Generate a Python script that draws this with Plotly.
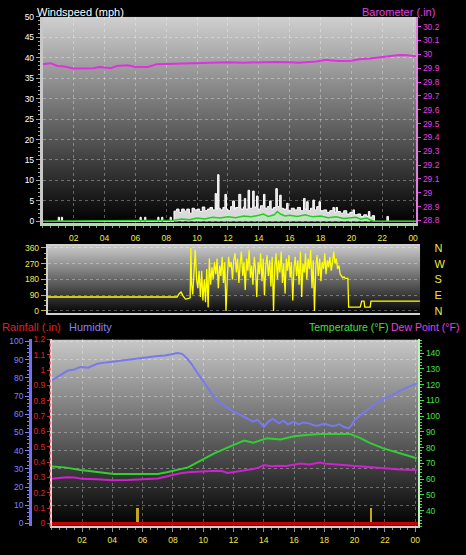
import base64
import plotly.graph_objects as go

W, H = 466, 555

# ---------------- DATA ----------------
hour_ticks = [2, 4, 6, 8, 10, 12, 14, 16, 18, 20, 22, 24]
hour_labels = ["02", "04", "06", "08", "10", "12", "14", "16", "18", "20", "22", "00"]

# wind gust (mph), step series
gust_hours = [0, 1.0, 1.08, 1.2, 1.28, 6.3, 6.38, 6.6, 6.68, 7.45, 7.53, 7.7, 7.78, 8.25, 8.33,
              8.5, 8.67, 8.83, 9.0, 9.17, 9.33, 9.5, 9.67, 9.83, 10.0, 10.17, 10.33, 10.5, 10.67,
              10.83, 11.0, 11.17, 11.25, 11.33, 11.42, 11.5, 11.67, 11.8, 11.9, 12.0, 12.17, 12.3,
              12.42, 12.5, 12.7, 12.83, 13.0, 13.06, 13.15, 13.3, 13.4, 13.6, 13.7, 13.85, 13.95,
              14.1, 14.3, 14.4, 14.55, 14.7, 14.8, 14.95, 15.1, 15.2, 15.35, 15.45, 15.6, 15.8,
              15.9, 16.1, 16.3, 16.5, 16.7, 16.9, 17.0, 17.1, 17.2, 17.35, 17.5, 17.6, 17.75, 17.9,
              18.0, 18.2, 18.4, 18.6, 18.8, 18.9, 19.0, 19.1, 19.3, 19.5, 19.7, 19.9, 20.1, 20.2,
              20.4, 20.6, 20.8, 21.0, 21.1, 21.2, 21.35, 21.5, 22.3, 22.4, 24.26]
gust_mph = [0, 1, 0, 1, 0, 1, 0, 1, 0, 1, 0, 1, 0, 1, 0,
            2.5, 3, 2.2, 3, 2.5, 3, 2, 3.2, 2.8, 3, 2.4, 3.5, 2.6, 3,
            3.4, 2.8, 6.8, 3, 11.4, 3.2, 2.8, 3.4, 6.6, 3, 2.6, 3.6, 5,
            3, 3.4, 6.6, 3, 3.5, 5.6, 3, 7.6, 3.2, 7.4, 3.5, 6.2, 3,
            3.8, 6.6, 3.2, 3.6, 5, 3, 3.4, 8, 3.6, 6.4, 3.2, 3, 4.4,
            2.6, 3.2, 2.8, 3.4, 2.6, 5.6, 3, 4.8, 2.6, 3.2, 5.2, 2.8, 3.6, 4.8,
            2.6, 2.8, 2.2, 2.6, 3.4, 2.2, 3.4, 2.4, 2, 2.6, 1.8, 2.2, 2.8, 1.6,
            1.8, 1.2, 1.6, 1.2, 2.4, 1, 1.4, 0, 1.2, 0, 0]

# average wind (mph)
avg_hours = [0, 8.5, 9, 9.5, 10, 10.5, 11, 11.5, 12, 12.5, 13, 13.5, 14, 14.3, 14.6, 15, 15.2,
             15.4, 15.7, 16, 16.5, 17, 17.5, 18, 18.5, 19, 19.5, 20, 20.3, 20.6, 21, 21.3, 21.5, 24.26]
avg_mph = [0, 0.3, 0.6, 0.4, 0.8, 0.6, 1.0, 0.8, 1.1, 0.9, 1.3, 1.1, 1.5, 1.8, 1.2, 1.6, 2.4,
           1.8, 1.3, 1.5, 1.2, 1.6, 1.1, 1.3, 0.9, 1.1, 0.7, 0.9, 1.0, 0.5, 0.8, 0.2, 0, 0]

# barometer (in)
baro_hours = [0, 0.5, 0.95, 1.4, 2, 2.7, 3.3, 3.5, 3.7, 4.4, 4.8, 5.5, 6.0, 6.8, 7.4, 8, 9, 10,
              11, 12, 13, 14, 15, 16, 16.6, 17.7, 18.4, 18.6, 19.2, 20, 20.5, 21.2, 22, 22.6,
              23.1, 23.6, 24.2]
baro_in = [29.929, 29.936, 29.916, 29.912, 29.898, 29.897, 29.899, 29.905, 29.909, 29.9, 29.916,
           29.921, 29.909, 29.909, 29.929, 29.93, 29.933, 29.937, 29.94, 29.943, 29.94, 29.944,
           29.945, 29.942, 29.94, 29.948, 29.96, 29.957, 29.952, 29.953, 29.964, 29.97, 29.98,
           29.985, 29.995, 29.993, 29.986]

# wind direction (degrees)
dir_hours = [0, 8.4, 8.55, 8.66, 8.8, 8.95, 9.1, 9.25, 9.3,
             9.35, 9.42, 9.5, 9.58, 9.67, 9.75, 9.83, 9.92, 10.0, 10.08, 10.17, 10.25, 10.33,
             10.42, 10.5, 10.58, 10.67, 10.75, 10.83, 10.92, 11.0, 11.08, 11.17, 11.25, 11.33,
             11.42, 11.5, 11.58, 11.67, 11.75, 11.83, 11.92, 12.0, 12.08, 12.17, 12.25, 12.33,
             12.42, 12.5, 12.58, 12.67, 12.75, 12.83, 12.92, 13.0, 13.08, 13.17, 13.25, 13.33,
             13.42, 13.5, 13.58, 13.67, 13.75, 13.83, 13.92, 14.0, 14.08, 14.17, 14.25, 14.33,
             14.42, 14.5, 14.58, 14.67, 14.75, 14.83, 14.92, 15.0, 15.08, 15.17, 15.25, 15.33,
             15.42, 15.5, 15.58, 15.67, 15.75, 15.83, 15.92, 16.0, 16.08, 16.17, 16.25, 16.33,
             16.42, 16.5, 16.58, 16.67, 16.75, 16.83, 16.92, 17.0, 17.08, 17.17, 17.25, 17.33,
             17.42, 17.5, 17.58, 17.67, 17.75, 17.83, 17.92, 18.0, 18.08, 18.17, 18.25, 18.33,
             18.42, 18.5, 18.58, 18.67, 18.75, 18.83, 18.92, 19.0, 19.08, 19.17, 19.25, 19.33,
             19.42, 19.5, 19.55, 20.3, 20.4, 20.55, 20.6, 20.95, 21.0, 24.2]
dir_deg = [80, 80, 100, 108, 85, 68, 70, 75, 360,
           150, 95, 200, 350, 180, 130, 230, 80, 230, 60, 180, 50, 240,
           20, 300, 150, 250, 180, 280, 210, 300, 130, 260, 200, 310,
           160, 280, 0, 200, 310, 250, 280, 180, 290, 330, 220, 300,
           160, 270, 340, 200, 280, 120, 300, 230, 350, 190, 260, 150,
           310, 240, 80, 280, 210, 330, 170, 300, 90, 260, 320, 200,
           290, 140, 310, 0, 250, 330, 180, 290, 220, 340, 160, 270,
           100, 300, 230, 320, 190, 280, 60, 250, 310, 200, 290, 150,
           340, 80, 270, 220, 330, 180, 300, 240, 350, 130, 290, 0,
           260, 320, 200, 300, 170, 280, 240, 330, 210, 290, 250, 310,
           230, 280, 340, 270, 300, 240, 260, 210, 200, 190, 195, 186,
           186, 186, 22, 22, 56, 56, 22, 22, 56, 56]

compass_vals = [0, 90, 180, 270, 360]
compass_text = ["N", "E", "S", "W", "N"]

# rainfall (in)
rain_hours = [0, 24.3]
rain_in = [0, 0]
event_hours = [5.66, 21.1]
event_vals = [0.1, 0.1]

# humidity (%)
hum_hours = [0, 0.5, 1.06, 1.5, 1.9, 2.4, 3.0, 3.6, 4.1, 4.6, 5.4, 6.3, 7.0, 7.5, 8.0, 8.3, 8.6,
             8.9, 9.2, 9.5, 9.8, 10.1, 10.5, 11.0, 11.5, 12.0, 12.5, 13.0, 13.3, 13.6, 14.0, 14.3,
             14.6, 15.0, 15.3, 15.6, 16.0, 16.3, 16.6, 17.0, 17.3, 17.6, 18.0, 18.3, 18.6, 19.0,
             19.3, 19.6, 19.8, 20.0, 20.4, 20.8, 21.3, 21.9, 22.5, 23.0, 23.5, 24.1]
hum_pct = [78.6, 81, 84, 84.6, 86, 85.6, 87.7, 88.5, 89, 89.9, 90.4, 91.6, 92, 92.3, 93, 93.6,
           93.2, 91, 88, 84, 80.5, 77, 72, 67, 64, 61.5, 59.5, 57.5, 56, 57, 53, 56,
           57.5, 55, 56.5, 54.5, 56, 54.4, 55.5, 55, 54, 53.7, 55, 54, 53.5, 54.5,
           53, 52.2, 54, 57, 59.6, 62.5, 65.5, 68.6, 70.5, 73, 75, 77]

# temperature (F)
temp_hours = [0, 0.84, 1.9, 3.0, 4.1, 5, 6, 7, 7.6, 8.3, 9, 9.8, 10.7, 11.6, 12.1, 12.7, 13.3,
              14.2, 15.1, 16.0, 16.8, 17.7, 18.5, 19.7, 20.35, 21.0, 21.9, 23.0, 24.1]
temp_f = [68, 67.5, 65.8, 64.5, 63.3, 63.3, 63.3, 63.3, 64.4, 66, 67.5, 71.7, 76.25, 80, 82,
          84.6, 83.1, 86, 85.2, 87.3, 88, 88.75, 88.75, 88.75, 86.25, 83.1, 79.6, 76.25, 73.3]

# dew point (F)
dew_hours = [0, 0.5, 1, 1.5, 2, 3, 4, 5, 6, 6.5, 7, 7.5, 8, 8.5, 9, 9.5, 10, 10.5, 11, 11.3,
             11.6, 12, 12.5, 13, 13.3, 13.7, 14, 14.5, 15, 15.5, 16, 16.4, 17, 17.7, 18, 18.5,
             19, 19.5, 19.9, 20.5, 21, 21.7, 22.5, 23, 23.5, 24.1]
dew_f = [60.2, 60.8, 61.3, 61, 60.2, 60, 59.4, 59.5, 60, 59.8, 60.5, 61.5, 62.8, 63.8, 64.4,
         64.8, 65, 65.2, 65.4, 65, 64, 64.6, 65.5, 65.8, 66.5, 67.5, 69, 68.2, 68.6, 68.4, 69.4,
         70, 69.4, 70.6, 70, 69.6, 69.2, 68.8, 68.5, 68.2, 67.5, 67, 66.5, 66.2, 66, 65.8]

baro_ticks = [28.8, 28.9, 29.0, 29.1, 29.2, 29.3, 29.4, 29.5, 29.6, 29.7, 29.8, 29.9, 30.0, 30.1, 30.2]
baro_labels = ["28.8", "28.9", "29", "29.1", "29.2", "29.3", "29.4", "29.5", "29.6", "29.7",
               "29.8", "29.9", "30", "30.1", "30.2"]
rain_ticks = [0, 0.1, 0.2, 0.3, 0.4, 0.5, 0.6, 0.7, 0.8, 0.9, 1.0, 1.1, 1.2]
rain_labels = ["0", "0.1", "0.2", "0.3", "0.4", "0.5", "0.6", "0.7", "0.8", "0.9", "1", "1.1", "1.2"]

# ---------------- STYLE / LAYOUT ----------------
FONT = "Liberation Sans, Arial, sans-serif"
YEL = "#f0e840"
WHITE = "#ffffff"
MAG = "#e040e0"
RED = "#e02020"
BLUE = "#8080ff"
GREEN = "#40e040"
GRID = "rgba(255,255,255,0.32)"


def xd(a, b):
    return [a / W, b / W]


def yd(top, bottom):
    return [1 - bottom / H, 1 - top / H]


def gradient_uri(c_top, c_bot):
    svg = ('<svg xmlns="http://www.w3.org/2000/svg" width="20" height="200" '
           'preserveAspectRatio="none" viewBox="0 0 20 200">'
           '<defs><linearGradient id="g" x1="0" y1="0" x2="0" y2="1">'
           f'<stop offset="0" stop-color="rgb({c_top},{c_top},{c_top})"/>'
           f'<stop offset="1" stop-color="rgb({c_bot},{c_bot},{c_bot})"/>'
           '</linearGradient></defs>'
           '<rect x="0" y="0" width="20" height="200" fill="url(#g)"/></svg>')
    return "data:image/svg+xml;base64," + base64.b64encode(svg.encode()).decode()


fig = go.Figure()

# panel 1
fig.add_trace(go.Scatter(x=gust_hours, y=gust_mph, xaxis="x", yaxis="y", mode="lines",
                         line=dict(color=WHITE, width=1, shape="hv"), fill="tozeroy",
                         fillcolor="rgba(255,255,255,0.85)", hoverinfo="skip"))
fig.add_trace(go.Scatter(x=avg_hours, y=avg_mph, xaxis="x", yaxis="y", mode="lines",
                         line=dict(color="#20d020", width=1.5), fill="tozeroy",
                         fillcolor="rgba(170,235,170,0.55)", hoverinfo="skip"))
fig.add_trace(go.Scatter(x=baro_hours, y=baro_in, xaxis="x", yaxis="y2", mode="lines",
                         line=dict(color="#e030e0", width=2), hoverinfo="skip"))
# panel 2
fig.add_trace(go.Scatter(x=dir_hours, y=dir_deg, xaxis="x2", yaxis="y3", mode="lines",
                         line=dict(color="#ffff00", width=1.3), hoverinfo="skip"))
fig.add_trace(go.Scatter(x=[dir_hours[0]], y=[dir_deg[0]], xaxis="x2", yaxis="y4", mode="markers",
                         marker=dict(opacity=0), hoverinfo="skip"))
# panel 3
fig.add_trace(go.Scatter(x=rain_hours, y=rain_in, xaxis="x3", yaxis="y5", mode="lines",
                         line=dict(color="#c80000", width=3), hoverinfo="skip"))
fig.add_trace(go.Bar(x=event_hours, y=event_vals, xaxis="x3", yaxis="y5", width=0.12,
                     marker=dict(color="#c0a820", line=dict(width=0)), hoverinfo="skip"))
fig.add_trace(go.Scatter(x=hum_hours, y=hum_pct, xaxis="x3", yaxis="y6", mode="lines",
                         line=dict(color="#7878f0", width=2), hoverinfo="skip"))
fig.add_trace(go.Scatter(x=temp_hours, y=temp_f, xaxis="x3", yaxis="y7", mode="lines",
                         line=dict(color="#30d030", width=2), hoverinfo="skip"))
fig.add_trace(go.Scatter(x=dew_hours, y=dew_f, xaxis="x3", yaxis="y7", mode="lines",
                         line=dict(color="#d020d0", width=2), hoverinfo="skip"))

tickfont_small = lambda c: dict(family=FONT, size=8.5, color=c)

# gradient backgrounds (panel boxes in pixels)
panels = [(43, 418, 12, 222, 208, 0), (48, 422, 245, 313, 200, 5), (52, 420, 340, 530, 200, 0)]
images = []
for (x0, x1, t, b, c0, c1) in panels:
    images.append(dict(source=gradient_uri(c0, c1), xref="paper", yref="paper",
                       x=x0 / W, y=1 - t / H, sizex=(x1 - x0) / W, sizey=(b - t) / H,
                       xanchor="left", yanchor="top", sizing="stretch", layer="below"))

shapes = [dict(type="line", xref="paper", yref="paper", x0=50 / W, x1=50 / W,
               y0=1 - 530 / H, y1=1 - 340 / H, line=dict(color=RED, width=1.5, dash="dot"))]

annotations = [
    dict(text="Windspeed (mph)", x=35 / W, y=1 - 7 / H, xanchor="left",
         font=dict(family=FONT, size=11, color=WHITE)),
    dict(text="Barometer (.in)", x=439 / W, y=1 - 7 / H, xanchor="right",
         font=dict(family=FONT, size=11, color=MAG)),
    dict(text="Rainfall (.in)", x=0, y=1 - 327 / H, xanchor="left",
         font=dict(family=FONT, size=11, color=RED)),
    dict(text="Humidity", x=67 / W, y=1 - 327 / H, xanchor="left",
         font=dict(family=FONT, size=11, color=BLUE)),
    dict(text="Temperature (°F)", x=392 / W, y=1 - 327 / H, xanchor="right",
         font=dict(family=FONT, size=10.5, color=GREEN)),
    dict(text="Dew Point (°F)", x=463 / W, y=1 - 327 / H, xanchor="right",
         font=dict(family=FONT, size=10.5, color=MAG)),
]
for a in annotations:
    a.update(xref="paper", yref="paper", yanchor="middle", showarrow=False)

minor_x = dict(dtick=0.5, tick0=0, ticklen=2, tickcolor="#909090", ticks="outside", showgrid=False)

fig.update_layout(
    width=W, height=H, margin=dict(l=0, r=0, t=0, b=0),
    paper_bgcolor="#000000", plot_bgcolor="rgba(0,0,0,0)",
    showlegend=False, shapes=shapes, images=images, annotations=annotations, bargap=0,
    xaxis=dict(domain=xd(43, 418), range=[0, 24.2], anchor="y", tickmode="array",
               tickvals=hour_ticks, ticktext=hour_labels, ticks="outside", ticklen=4,
               tickcolor="#909090", tickfont=tickfont_small(YEL), showgrid=True, gridcolor=GRID,
               griddash="dot", gridwidth=1, showline=True, linecolor="#a8e0a8", linewidth=3,
               zeroline=False, minor=minor_x),
    yaxis=dict(domain=yd(12, 222), range=[-0.5, 50], anchor="x", dtick=5, tick0=0,
               ticks="outside", ticklen=4, tickcolor="#a0a0a0", tickfont=tickfont_small(WHITE),
               showgrid=True, gridcolor=GRID, griddash="dot", showline=True, linecolor="#c8c8c8",
               linewidth=3, zeroline=False,
               minor=dict(dtick=1, ticklen=2, tickcolor="#a0a0a0", ticks="outside", showgrid=False)),
    yaxis2=dict(overlaying="y", side="right", anchor="x", range=[28.779, 30.271],
                tickmode="array", tickvals=baro_ticks, ticktext=baro_labels, ticks="outside",
                ticklen=3, tickcolor=MAG, tickfont=tickfont_small(MAG), showgrid=False,
                showline=True, linecolor="#e080e0", linewidth=2, zeroline=False),
    xaxis2=dict(domain=xd(48, 422), range=[0, 24.2], anchor="y3", showticklabels=False,
                ticks="", showgrid=False, showline=True, linecolor="#d0d0d0", linewidth=2,
                mirror=True, zeroline=False),
    yaxis3=dict(domain=yd(245, 313), range=[-11, 371], anchor="x2", tickmode="array",
                tickvals=compass_vals, ticks="outside", ticklen=5, tickcolor="#c0b840",
                tickfont=tickfont_small(YEL), showgrid=True, gridcolor=GRID, griddash="dot",
                showline=True, linecolor="#d0d0d0", linewidth=2, zeroline=False,
                minor=dict(dtick=30, ticklen=2, tickcolor="#c0b840", ticks="outside", showgrid=False)),
    yaxis4=dict(overlaying="y3", side="right", anchor="x2", range=[-11, 371], tickmode="array",
                tickvals=compass_vals, ticktext=compass_text, ticks="outside", ticklen=11,
                tickcolor="rgba(0,0,0,0)", tickfont=dict(family=FONT, size=11, color=YEL),
                showgrid=False, showline=False, zeroline=False),
    xaxis3=dict(domain=xd(52, 420), range=[0, 24.2], anchor="y5", tickmode="array",
                tickvals=hour_ticks, ticktext=hour_labels, ticks="outside", ticklen=4,
                tickcolor="#909090", tickfont=tickfont_small(YEL), showgrid=True, gridcolor=GRID,
                griddash="dot", showline=True, linecolor="#d0d0d0", linewidth=2, zeroline=False,
                minor=minor_x),
    yaxis5=dict(domain=yd(340, 530), range=[-0.019, 1.2], anchor="x3", side="left",
                tickmode="array", tickvals=rain_ticks, ticktext=rain_labels, ticks="outside",
                ticklen=3, tickcolor=RED, tickfont=tickfont_small(RED), showgrid=False,
                showline=True, linecolor="#f0d0d0", linewidth=1.5, zeroline=False),
    yaxis6=dict(overlaying="y5", side="left", anchor="free", position=30 / W,
                range=[-1.62, 101.08], dtick=10, tick0=0, ticks="outside", ticklen=4,
                tickcolor=BLUE, tickfont=tickfont_small(BLUE), showgrid=True, gridcolor=GRID,
                griddash="dot", showline=True, linecolor="#7070f0", linewidth=2.5, zeroline=False,
                minor=dict(dtick=2, ticklen=2, tickcolor=BLUE, ticks="outside", showgrid=False)),
    yaxis7=dict(overlaying="y5", side="right", anchor="x3", range=[30, 148.75],
                tickmode="array", tickvals=[40, 50, 60, 70, 80, 90, 100, 110, 120, 130, 140],
                ticks="outside", ticklen=4, tickcolor=GREEN, tickfont=tickfont_small(GREEN),
                showgrid=False, showline=True, linecolor="#c0f0c0", linewidth=2, zeroline=False,
                minor=dict(dtick=2, ticklen=2, tickcolor=GREEN, ticks="outside", showgrid=False)),
)

fig.write_html("out.html")
